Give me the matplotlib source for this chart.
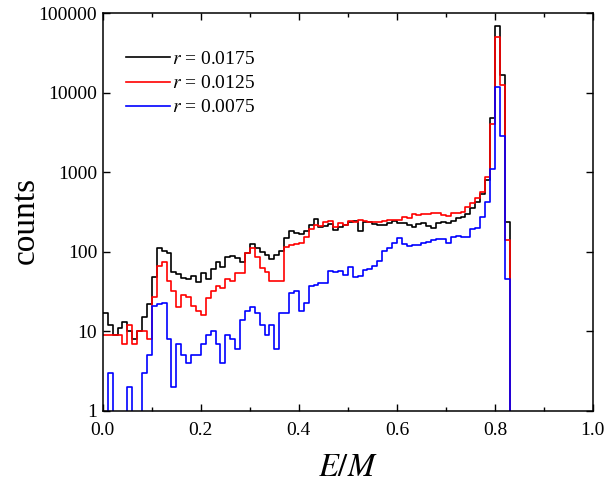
import numpy as np
import matplotlib
matplotlib.use("Agg")
import matplotlib.pyplot as plt
from matplotlib.ticker import FixedLocator, MultipleLocator, FuncFormatter

# histogram of E/M, bin width 0.01 starting at 0
bin_width = 0.01

counts_r0175 = [17, 12, 9, 11, 13, 10, 8, 10, 15, 22,
                48, 113, 103, 97, 56, 52, 47, 45, 50, 42,
                54, 45, 60, 75, 65, 85, 88, 83, 75, 96,
                125, 112, 98, 90, 82, 92, 102, 150, 180, 172,
                168, 185, 218, 255, 202, 210, 222, 189, 206, 215,
                234, 245, 185, 235, 236, 225, 215, 215, 230, 242,
                228, 230, 218, 205, 225, 230, 210, 197, 233, 240,
                228, 247, 265, 277, 300, 350, 426, 540, 790, 4800,
                69000, 16600, 240]

counts_r0125 = [9, 9, 9, 9, 7, 12, 7, 10, 10, 8,
                27, 66, 74, 43, 32, 20, 29, 27, 21, 18,
                16, 26, 32, 37, 35, 45, 43, 54, 54, 96,
                110, 85, 63, 55, 43, 43, 43, 115, 123, 127,
                130, 155, 195, 218, 210, 238, 245, 205, 229, 215,
                242, 235, 250, 246, 240, 240, 240, 245, 248, 250,
                252, 270, 265, 295, 290, 300, 298, 304, 311, 290,
                280, 310, 305, 318, 369, 405, 470, 566, 870, 4000,
                50000, 12300, 141]

counts_r0075 = [0, 3, 0, 0, 0, 2, 0, 0, 3, 5,
                21, 22, 23, 8, 2, 7, 5, 4, 5, 5,
                7, 9, 10, 7, 4, 9, 8, 6, 14, 18,
                20, 17, 12, 9, 12, 6, 17, 17, 30, 32,
                18, 23, 37, 38, 40, 40, 58, 55, 58, 51,
                64, 48, 50, 59, 60, 66, 77, 103, 111, 128,
                150, 125, 118, 122, 122, 130, 132, 141, 144, 144,
                128, 152, 158, 152, 155, 192, 197, 277, 420, 1100,
                11900, 2830, 45]

series_labels = ["$r$ = 0.0175", "$r$ = 0.0125", "$r$ = 0.0075"]
series_colors = ["black", "red", "blue"]

y_ticks = [1, 10, 100, 1000, 10000, 100000]


def main():
    plt.rcParams["font.family"] = ["Liberation Serif", "DejaVu Serif"]
    plt.rcParams["mathtext.fontset"] = "stix"

    fig = plt.figure(figsize=(6.05, 4.84), dpi=100)
    ax = fig.add_axes([0.170, 0.151, 0.810, 0.822])

    for counts, label, color in zip([counts_r0175, counts_r0125, counts_r0075],
                                    series_labels, series_colors):
        edges = np.arange(len(counts) + 1) * bin_width
        # last point drops the outline back to zero at the upper edge
        ys = np.append(np.array(counts, dtype=float), 0.0)
        ax.step(edges, ys, where="post", color=color, lw=1.2, label=label)

    ax.set_yscale("log")
    ax.set_xlim(0, 1.0)
    ax.set_ylim(1, 100000)

    ax.xaxis.set_major_locator(MultipleLocator(0.2))
    ax.xaxis.set_minor_locator(MultipleLocator(0.1))
    ax.xaxis.set_major_formatter(FuncFormatter(lambda v, p: "%.1f" % v))
    ax.yaxis.set_major_locator(FixedLocator(y_ticks))
    ax.yaxis.set_minor_locator(FixedLocator([]))
    ax.yaxis.set_major_formatter(FuncFormatter(lambda v, p: "%d" % round(v)))

    ax.tick_params(which="both", direction="in", top=True, right=True,
                   labelsize=14, width=1.0)
    ax.tick_params(which="major", length=5)
    ax.tick_params(axis="y", which="major", pad=4)
    ax.tick_params(axis="x", which="major", pad=8)
    ax.tick_params(which="minor", length=3)
    for sp in ax.spines.values():
        sp.set_linewidth(1.1)

    ax.set_xlabel("$E/M$", fontsize=23.5, labelpad=10)
    ax.set_ylabel("counts", fontsize=24)
    ax.yaxis.label.set_verticalalignment("center")
    ax.yaxis.set_label_coords(-0.158, 0.48)

    ax.legend(loc="upper left", frameon=False, fontsize=14,
              handlelength=2.25, handletextpad=0.15, labelspacing=0.33,
              borderaxespad=0.0, bbox_to_anchor=(0.031, 0.925))

    fig.savefig("out.png", dpi=100)


if __name__ == "__main__":
    main()
